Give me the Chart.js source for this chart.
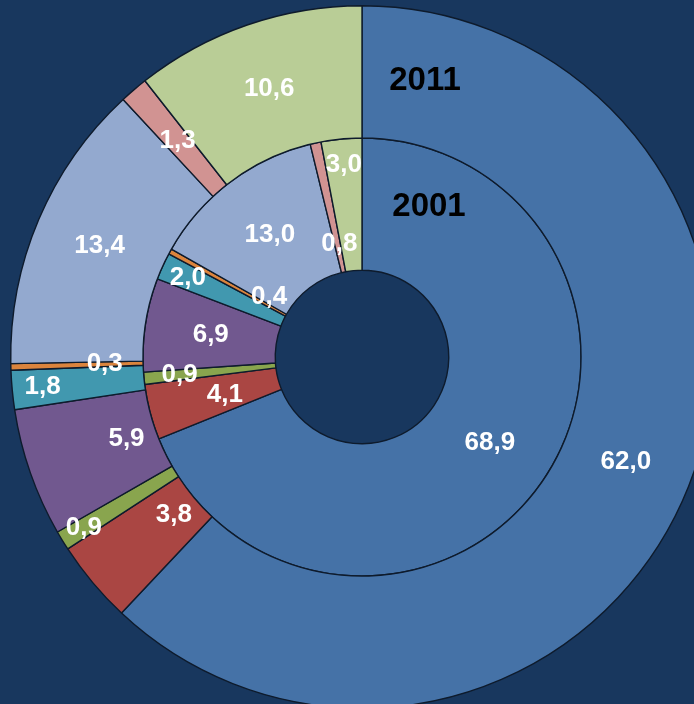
<!DOCTYPE html>
<html>
<head>
<meta charset="utf-8">
<script src="https://cdn.jsdelivr.net/npm/chart.js@4.4.0/dist/chart.umd.min.js"></script>
<style>
  html, body { margin: 0; padding: 0; overflow: hidden; background: #18375E; }
  #wrap { position: absolute; left: 0; top: 0; width: 724px; height: 714px; }
</style>
</head>
<body>
<div id="wrap"><canvas id="anel" width="724" height="714"></canvas></div>
<script>
// categorias (mesma ordem nos dois anéis, a partir do topo em sentido horário)
const categorias = ["A", "B", "C", "D", "E", "F", "G", "H", "I"];
const anos = ["2011", "2001"];
const valores2011 = [62.0, 3.8, 0.9, 5.9, 1.8, 0.3, 13.4, 1.3, 10.6];
const valores2001 = [68.9, 4.1, 0.9, 6.9, 2.0, 0.4, 13.0, 0.8, 3.0];

const cores = ['#4572A7', '#AA4643', '#89A54E', '#71588F', '#4198AF',
               '#DB843D', '#93A9CF', '#D19392', '#B9CD96'];

// posição dos rótulos dentro de cada fatia: fração do raio do anel e ajuste de ângulo (graus)
const posRotulos = [
  [[0.49, 0], [0.20, 0], [0.81, 0], [0.23, 0], [0.77, 0], [0.29, 0], [0.50, 0], [0.49, 0], [0.49, 0]],
  [[0.51, 0], [0.42, -1], [0.73, 0], [0.50, 0], [0.79, 0], [0.18, 4], [0.50, 0], [0.22, 1], [0.80, 0]]
];

const virgula = v => v.toFixed(1).replace('.', ',');

const rotulos = {
  id: 'rotulos',
  afterDatasetsDraw(chart) {
    const ctx = chart.ctx;
    ctx.save();
    ctx.textAlign = 'center';
    ctx.textBaseline = 'middle';
    ctx.fillStyle = '#FFFFFF';
    ctx.font = 'bold 26px "Liberation Sans", Arial, sans-serif';
    chart.data.datasets.forEach((ds, d) => {
      chart.getDatasetMeta(d).data.forEach((arc, i) => {
        const p = arc.getProps(['x', 'y', 'startAngle', 'endAngle', 'innerRadius', 'outerRadius'], true);
        const ang = (p.startAngle + p.endAngle) / 2 + posRotulos[d][i][1] * Math.PI / 180;
        const r = p.innerRadius + (p.outerRadius - p.innerRadius) * posRotulos[d][i][0];
        ctx.fillText(virgula(ds.data[i]), p.x + Math.cos(ang) * r, p.y + Math.sin(ang) * r);
      });
    });
    // nome de cada anel
    const c = chart.getDatasetMeta(0).data[0];
    ctx.fillStyle = '#000000';
    ctx.font = 'bold 33px "Liberation Sans", Arial, sans-serif';
    ctx.fillText(anos[0], c.x + 63, c.y - 276);
    ctx.fillText(anos[1], c.x + 67, c.y - 150);
    ctx.restore();
  }
};

const config = {
  type: 'doughnut',
  data: {
    labels: categorias,
    datasets: [
      { label: anos[0], data: valores2011, backgroundColor: cores, borderColor: '#0E1B2C', borderWidth: 1.4 },
      { label: anos[1], data: valores2001, backgroundColor: cores, borderColor: '#0E1B2C', borderWidth: 1.4 }
    ]
  },
  options: {
    responsive: false,
    animation: false,
    cutout: '24.7%',
    layout: { padding: { left: 10, right: 10, top: 5, bottom: 5 } },
    plugins: { legend: { display: false }, tooltip: { enabled: false } }
  },
  plugins: [rotulos]
};

new Chart(document.getElementById('anel'), config);
</script>
</body>
</html>
